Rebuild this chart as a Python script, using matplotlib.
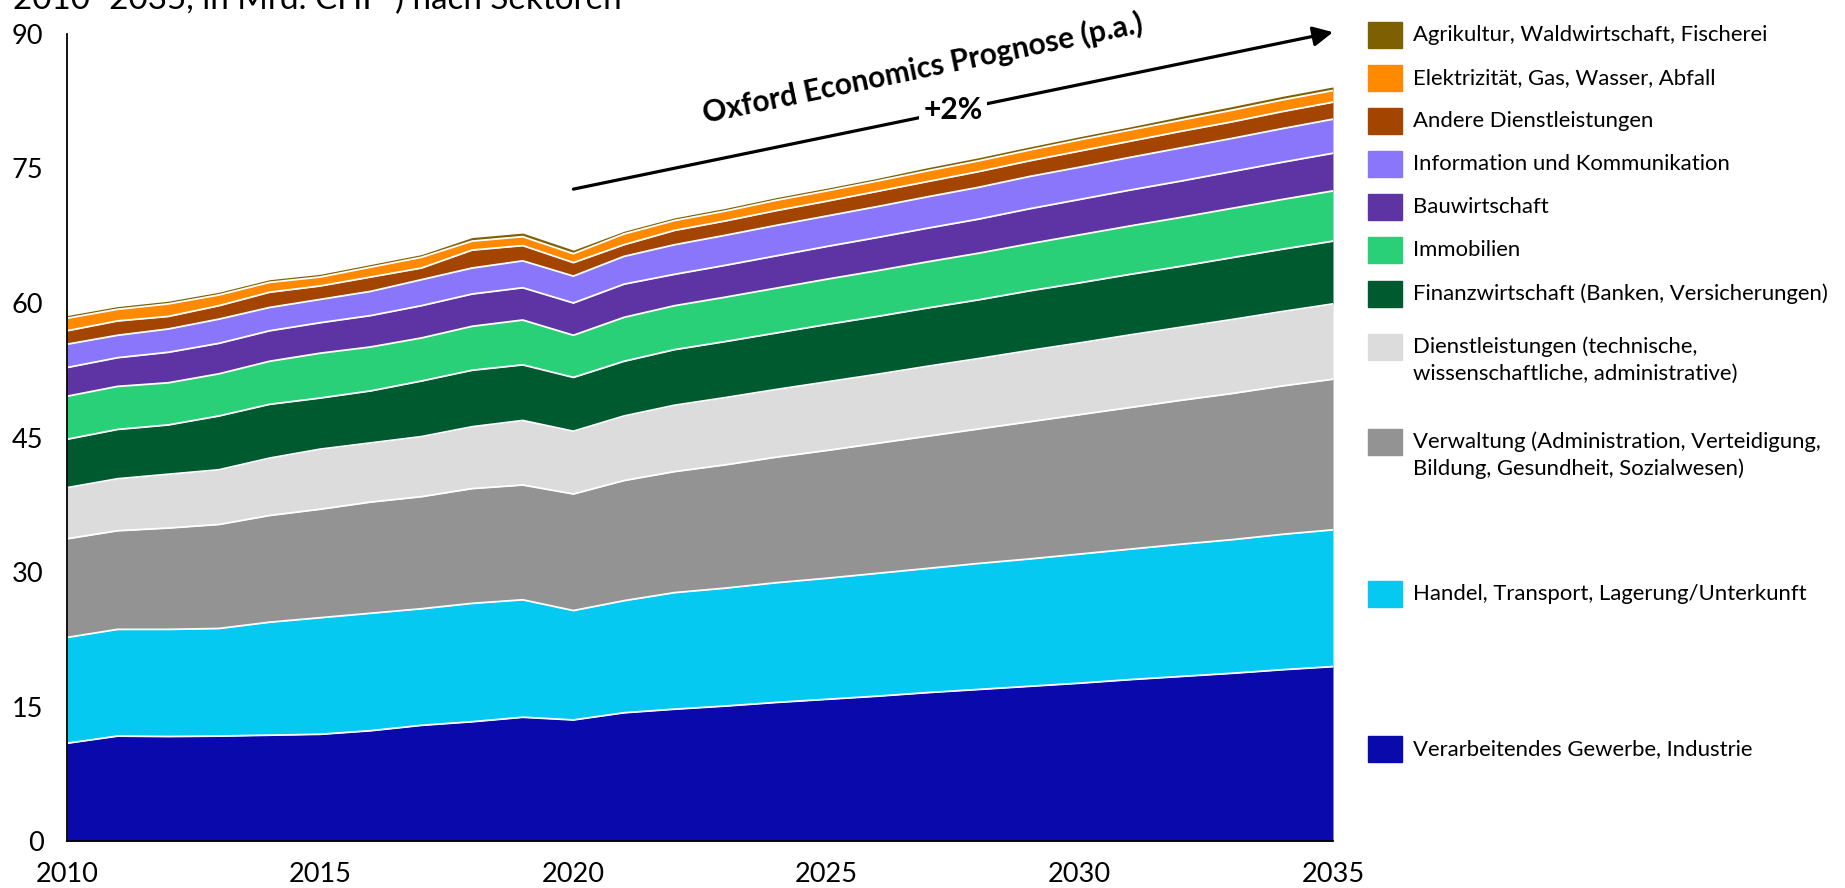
import math
import matplotlib
matplotlib.use('Agg')
import matplotlib.pyplot as plt
from matplotlib.patches import Rectangle
import numpy as np

plt.rcParams['font.family'] = ['Lato', 'DejaVu Sans']

years = list(range(2010, 2036))

# Bruttowertschöpfung in Mrd. CHF je Sektor (von unten nach oben gestapelt)
verarbeitung = [10.9, 11.7, 11.65, 11.7, 11.8, 11.9, 12.3, 12.9, 13.3, 13.8, 13.5, 14.3, 14.7,
                15.05, 15.45, 15.8, 16.15, 16.55, 16.9, 17.25, 17.6, 18.0, 18.35, 18.7, 19.1, 19.45]
handel = [11.8, 11.9, 11.95, 12.0, 12.6, 13.0, 13.1, 13.0, 13.2, 13.1, 12.2, 12.5, 13.0,
          13.15, 13.35, 13.5, 13.7, 13.85, 14.05, 14.2, 14.4, 14.55, 14.75, 14.9, 15.1, 15.25]
verwaltung = [11.0, 11.0, 11.3, 11.6, 11.9, 12.1, 12.4, 12.5, 12.8, 12.8, 13.0, 13.4, 13.5,
              13.75, 14.0, 14.25, 14.5, 14.75, 15.0, 15.3, 15.55, 15.8, 16.05, 16.3, 16.55, 16.8]
dienstleistungen = [5.7, 5.8, 6.0, 6.1, 6.4, 6.7, 6.6, 6.7, 6.9, 7.2, 7.0, 7.2, 7.4,
                    7.5, 7.55, 7.65, 7.7, 7.8, 7.85, 7.95, 8.0, 8.1, 8.15, 8.25, 8.3, 8.4]
finanz = [5.4, 5.5, 5.5, 6.0, 6.0, 5.7, 5.8, 6.2, 6.3, 6.2, 6.0, 6.1, 6.2,
          6.25, 6.3, 6.4, 6.45, 6.5, 6.55, 6.65, 6.7, 6.75, 6.8, 6.9, 6.95, 7.0]
immobilien = [4.8, 4.8, 4.7, 4.7, 4.8, 5.0, 4.9, 4.8, 4.9, 5.0, 4.7, 4.9, 4.9,
              4.95, 5.0, 5.05, 5.1, 5.15, 5.2, 5.25, 5.35, 5.4, 5.45, 5.5, 5.55, 5.6]
bau = [3.2, 3.2, 3.4, 3.4, 3.4, 3.4, 3.5, 3.6, 3.6, 3.6, 3.6, 3.7, 3.5,
       3.55, 3.6, 3.65, 3.7, 3.75, 3.8, 3.9, 3.95, 4.0, 4.05, 4.1, 4.15, 4.2]
information = [2.6, 2.5, 2.6, 2.7, 2.6, 2.6, 2.7, 2.9, 2.9, 3.0, 3.0, 3.1, 3.3,
               3.35, 3.4, 3.4, 3.45, 3.5, 3.55, 3.6, 3.6, 3.65, 3.7, 3.7, 3.75, 3.8]
andere = [1.5, 1.6, 1.4, 1.5, 1.7, 1.5, 1.6, 1.3, 2.0, 1.7, 1.5, 1.3, 1.6,
          1.6, 1.65, 1.65, 1.7, 1.7, 1.75, 1.75, 1.8, 1.8, 1.85, 1.85, 1.9, 1.9]
elektrizitaet = [1.4, 1.3, 1.4, 1.2, 1.1, 1.0, 1.1, 1.2, 1.0, 1.0, 1.0, 1.2, 1.1,
                 1.1, 1.15, 1.15, 1.15, 1.2, 1.2, 1.2, 1.25, 1.25, 1.25, 1.3, 1.3, 1.3]
agrikultur = [0.3, 0.3, 0.3, 0.3, 0.3, 0.3, 0.3, 0.3, 0.4, 0.4, 0.4, 0.3, 0.3,
              0.3, 0.3, 0.3, 0.3, 0.35, 0.35, 0.35, 0.35, 0.35, 0.4, 0.4, 0.4, 0.4]

series = [verarbeitung, handel, verwaltung, dienstleistungen, finanz, immobilien,
          bau, information, andere, elektrizitaet, agrikultur]
colors = ['#0A09AB', '#06C9F2', '#939393', '#DCDCDC', '#005A30', '#29D077',
          '#5E34A4', '#8A76FA', '#A34500', '#FF8A00', '#7F6000']
labels = [['Verarbeitendes Gewerbe, Industrie'],
          ['Handel, Transport, Lagerung/Unterkunft'],
          ['Verwaltung (Administration, Verteidigung,', 'Bildung, Gesundheit, Sozialwesen)'],
          ['Dienstleistungen (technische,', 'wissenschaftliche, administrative)'],
          ['Finanzwirtschaft (Banken, Versicherungen)'],
          ['Immobilien'],
          ['Bauwirtschaft'],
          ['Information und Kommunikation'],
          ['Andere Dienstleistungen'],
          ['Elektrizität, Gas, Wasser, Abfall'],
          ['Agrikultur, Waldwirtschaft, Fischerei']]
# vertikale Lage der Legendeneinträge (Pixel von oben)
legend_y = [749, 594, 442, 347, 294, 250, 207, 164, 121, 78, 35]

W, H = 1845, 888
fig = plt.figure(figsize=(W / 100, H / 100), dpi=100)
ax = fig.add_axes([67 / W, 1 - 841 / H, (1333 - 67) / W, (841 - 34) / H])

x = np.array(years)
bottom = np.zeros(len(years))
for vals, c in zip(series, colors):
    top = bottom + np.array(vals)
    ax.fill_between(x, bottom, top, color=c, linewidth=0, zorder=1)
    bottom = top

# weisse Trennlinien zwischen den Schichten
cum = np.zeros(len(years))
for vals in series[:-1]:
    cum = cum + np.array(vals)
    ax.plot(x, cum, color='white', lw=1.3, zorder=2)

ax.set_xlim(2010, 2035)
ax.set_ylim(0, 90)
ax.set_xticks(range(2010, 2036, 5))
ax.set_yticks(range(0, 91, 15))
for s in ['top', 'right']:
    ax.spines[s].set_visible(False)
for s in ['left', 'bottom']:
    ax.spines[s].set_linewidth(1.3)
    ax.spines[s].set_zorder(4)
ax.tick_params(axis='x', length=0, pad=15, labelsize=19.5)
ax.tick_params(axis='y', length=0, pad=17, labelsize=19.5)

# Prognose-Pfeil
p0 = (2020, 72.7)
p1 = (2035, 90.2)
ax.annotate('', xy=p1, xytext=p0, annotation_clip=False,
            arrowprops=dict(arrowstyle='-|>', color='black', lw=2.3,
                            mutation_scale=30, shrinkA=0, shrinkB=0))
a = ax.transData.transform(p0)
b = ax.transData.transform(p1)
angle = math.degrees(math.atan2(b[1] - a[1], b[0] - a[0]))
ax.text(2026.9, 86.2, 'Oxford Economics Prognose (p.a.)', rotation=angle,
        rotation_mode='anchor', ha='center', va='center', fontsize=21.5,
        fontweight='bold', zorder=6)
ax.text(2027.5, 81.5, '+2%', ha='center', va='center', fontsize=21.5,
        fontweight='bold', zorder=6,
        bbox=dict(facecolor='white', edgecolor='none', pad=3))

# Legende
for lines, c, yc in zip(labels, colors, legend_y):
    fig.add_artist(Rectangle((1368 / W, 1 - (yc + 13) / H), 34 / W, 26 / H,
                             transform=fig.transFigure, color=c))
    for i, line in enumerate(lines):
        fig.text(1413 / W, 1 - (yc + i * 27) / H, line, ha='left', va='center',
                 fontsize=15.9)

# abgeschnittener Titel oben
fig.text(13 / W, 1 - 9 / H, '2010–2035, in Mrd. CHF*) nach Sektoren',
         ha='left', va='baseline', fontsize=23.9)

fig.savefig('out.png', dpi=100)
